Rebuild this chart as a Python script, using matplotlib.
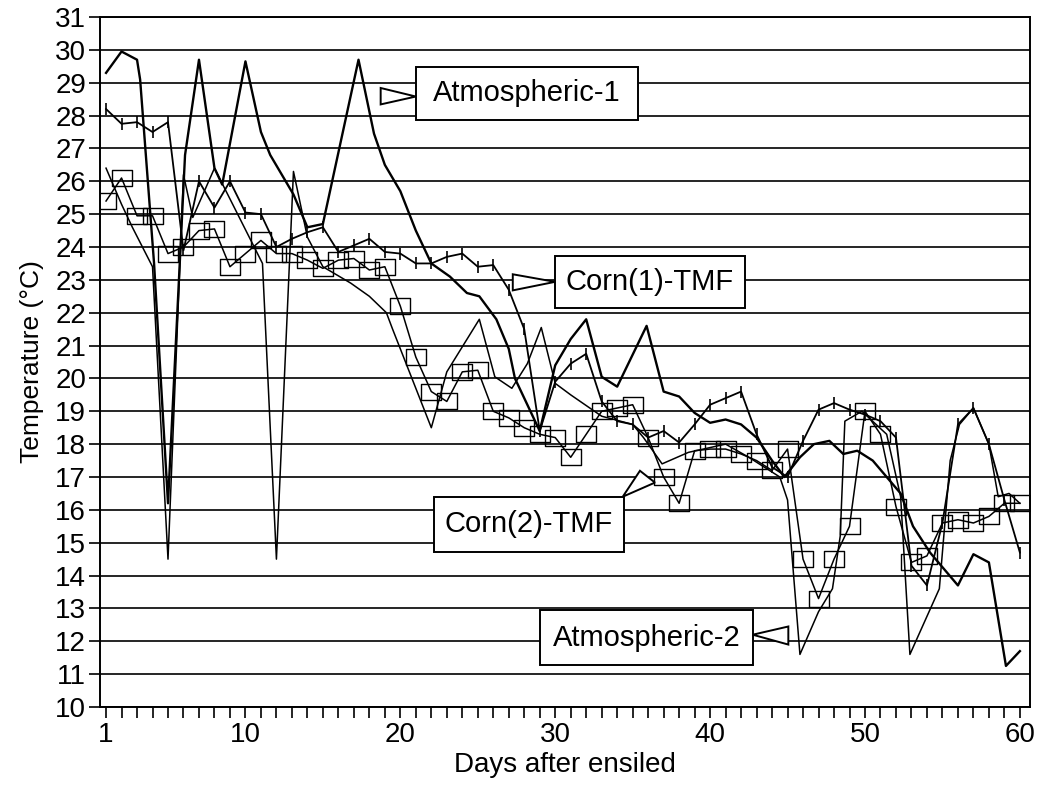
import matplotlib
matplotlib.use('Agg')
import matplotlib.pyplot as plt
import numpy as np
from matplotlib.patches import Rectangle, Polygon
from matplotlib.path import Path

plt.rcParams['font.family'] = ['Liberation Sans', 'DejaVu Sans']

# Corn(1)-TMF y Corn(2)-TMF: una lectura por dia
dias = np.arange(1, 61)
corn1 = [28.2, 27.75, 27.8, 27.5, 27.8, 23.9, 26.0, 25.2, 26.0, 25.05,
         25.0, 24.0, 24.25, 24.45, 24.6, 23.85, 24.05, 24.25, 23.85, 23.8,
         23.5, 23.5, 23.7, 23.8, 23.4, 23.45, 22.7, 21.5, 18.4, 19.9,
         20.45, 20.75, 19.3, 18.7, 18.6, 18.2, 18.4, 18.05, 18.6, 19.2,
         19.4, 19.6, 18.3, 17.3, 17.0, 18.1, 19.05, 19.25, 19.05, 18.9,
         18.7, 18.2, 14.3, 13.7, 15.6, 18.6, 19.1, 18.0, 16.3, 14.7]
corn2 = [25.4, 26.1, 24.95, 24.95, 23.8, 24.0, 24.5, 24.55, 23.4, 23.8,
         24.2, 23.8, 23.8, 23.6, 23.35, 23.6, 23.65, 23.3, 23.4, 22.2,
         20.65, 19.6, 19.3, 20.2, 20.25, 19.0, 18.8, 18.5, 18.3, 18.2,
         17.6, 18.3, 19.0, 19.1, 19.2, 18.2, 17.0, 16.2, 17.8, 17.85,
         17.85, 17.7, 17.5, 17.2, 17.85, 14.5, 13.3, 14.5, 15.5, 19.0,
         18.3, 16.1, 14.4, 14.6, 15.6, 15.7, 15.6, 15.8, 16.2, 16.2]

# temperatura atmosferica (lecturas irregulares)
atm1_dias = [1, 2, 3, 3.2, 4.1, 5, 6.1, 7, 8, 8.5,
             10, 11, 11.6, 13.1, 14, 15, 17.3, 18.3, 19, 20,
             21, 22, 23.2, 24.3, 25.1, 26.2, 27, 27.4, 29, 30,
             31, 32, 33, 34, 35.9, 37, 38, 39, 40, 41,
             42, 43, 44, 44.8, 45.8, 46.7, 47.7, 48.6, 49.5, 50.5,
             51.4, 52.3, 53.1, 54.2, 56, 57, 58, 59.1, 60]
atm1 = [29.3, 29.95, 29.7, 29.1, 23.5, 16.2, 26.8, 29.7, 26.4, 25.9,
        29.65, 27.5, 26.8, 25.6, 24.6, 24.7, 29.7, 27.45, 26.5, 25.7,
        24.5, 23.5, 23.1, 22.6, 22.5, 21.8, 20.9, 20.0, 18.4, 20.4,
        21.2, 21.8, 20.05, 19.75, 21.6, 19.6, 19.45, 18.95, 18.65, 18.75,
        18.6, 18.2, 17.5, 17.0, 17.6, 18.0, 18.1, 17.7, 17.8, 17.5,
        17.0, 16.5, 15.5, 14.7, 13.7, 14.65, 14.4, 11.25, 11.7]

atm2_dias = [1, 2, 2.7, 4, 5, 6, 6.6, 8, 11.1, 12,
             13.1, 14, 15, 16.8, 18, 19.1, 19.5, 20, 22, 23,
             25.1, 26.1, 27.2, 28.2, 29.1, 30, 31, 33, 35, 35.7,
             36.9, 38.6, 41, 42.5, 44.5, 45, 45.8, 47, 47.9, 48.4,
             48.7, 49.8, 51.4, 52.3, 52.9, 54.8, 55.5, 56.1, 57, 58,
             58.6, 59.3, 60]
atm2 = [26.4, 25.3, 24.6, 23.4, 14.5, 26.2, 24.9, 26.4, 23.5, 14.5,
        26.3, 24.3, 23.4, 22.9, 22.5, 22.0, 21.5, 20.9, 18.5, 20.2,
        21.8, 20.05, 19.7, 20.45, 21.55, 19.85, 19.5, 18.85, 18.6, 18.2,
        17.4, 17.75, 18.0, 17.6, 17.0, 16.3, 11.6, 12.9, 13.6, 15.2,
        18.7, 19.0, 18.3, 16.4, 11.6, 13.6, 17.5, 18.6, 19.1, 18.0,
        16.4, 16.5, 16.2]

fig = plt.figure(figsize=(10.45, 7.88), dpi=100)
ax = fig.add_axes([0.0957, 0.1028, 0.8899, 0.8756])

# cuadrado un poco apaisado, como en el original
rect = Path([(-1, -0.8), (1, -0.8), (1, 0.8), (-1, 0.8), (-1, -0.8)],
            [Path.MOVETO, Path.LINETO, Path.LINETO, Path.LINETO, Path.CLOSEPOLY])

ax.plot(atm1_dias, atm1, color='black', lw=1.7, zorder=3)
ax.plot(atm2_dias, atm2, color='black', lw=1.1, zorder=3)
ax.plot(dias, corn1, color='black', lw=1.3, marker='|', ms=9, mew=1.2, zorder=3)
ax.plot(dias, corn2, color='black', lw=1.1, marker=rect, ms=15, mew=1.0,
        mfc='none', zorder=3)

ax.set_xlim(0.61, 60.65)
ax.set_ylim(10, 31)
ax.set_yticks(range(10, 32))
ax.set_xticks([1, 10, 20, 30, 40, 50, 60])
ax.set_xticks(range(1, 61), minor=True)
ax.grid(axis='y', color='black', lw=1.2, zorder=1)
ax.tick_params(axis='both', which='both', direction='out', length=8,
               width=1.2, labelsize=20, colors='black')
ax.tick_params(axis='x', pad=3)
ax.tick_params(axis='y', pad=2)
for s in ax.spines.values():
    s.set_linewidth(1.4)

ax.set_xlabel('Days after ensiled', fontsize=20, labelpad=3)
ax.set_ylabel('Temperature (\u00b0C)', fontsize=19, labelpad=8)

# cajas con flechas triangulares
def rotulo(x0, y0, x1, y1, texto, tri):
    ax.add_patch(Rectangle((x0, y0), x1 - x0, y1 - y0, facecolor='white',
                           edgecolor='black', lw=1.4, zorder=5))
    ax.add_patch(Polygon(tri, closed=True, facecolor='white', edgecolor='black',
                         lw=1.4, zorder=5))
    ax.text((x0 + x1) / 2, (y0 + y1) / 2, texto, fontsize=21,
            ha='center', va='center', zorder=6)

rotulo(21.0, 27.88, 35.35, 29.49, 'Atmospheric-1',
       [(18.73, 28.84), (18.73, 28.34), (21.0, 28.58)])
rotulo(29.99, 22.13, 42.25, 23.72, 'Corn(1)-TMF',
       [(27.26, 23.17), (27.26, 22.68), (29.99, 22.94)])
rotulo(22.18, 14.73, 34.44, 16.38, 'Corn(2)-TMF',
       [(34.36, 16.40), (35.47, 17.19), (36.44, 16.83)])
rotulo(29.02, 11.29, 42.75, 12.94, 'Atmospheric-2',
       [(42.75, 12.2), (45.05, 12.45), (45.05, 11.9)])

plt.savefig('out.png', dpi=100)
